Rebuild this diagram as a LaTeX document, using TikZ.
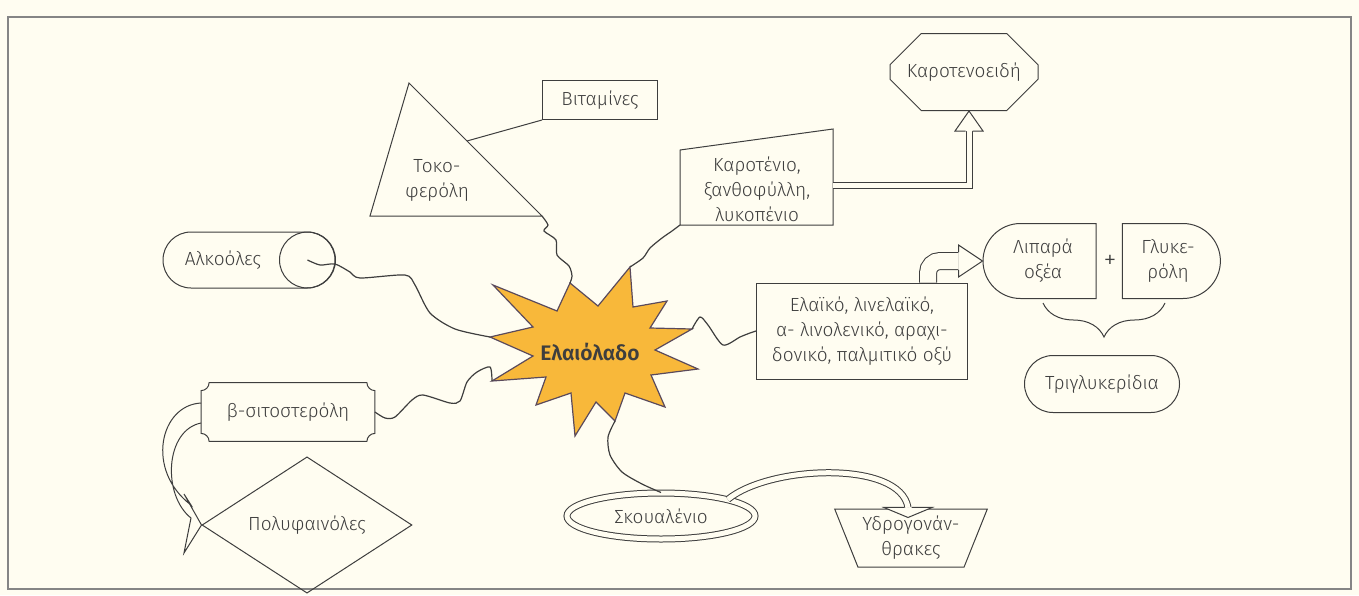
\documentclass[tikz,border=0pt]{standalone}
\usepackage{fontspec}
\setmainfont{Fira Sans}[UprightFont=* Light, BoldFont=* SemiBold]
\usetikzlibrary{shapes.geometric,shapes.misc,decorations.pathreplacing,calc}

\definecolor{bgc}{HTML}{FFFDF1}
\definecolor{ink}{HTML}{3E3E3E}
\definecolor{framec}{HTML}{858585}
\definecolor{starfill}{HTML}{F8B83A}
\definecolor{staredge}{HTML}{5A4A5C}

\tikzset{
	ln/.style={draw=ink,line width=0.5pt},
	wire/.style={ln,line width=0.6pt},
	plain/.style={inner sep=0pt,align=center},
	box/.style={ln,rectangle,inner sep=0pt,align=center},
	hollow/.style={draw=ink,line width=0.5pt,double=bgc,double distance=#1},
}

% hollow arrow head: tip, direction, length, half width, half shaft
\newcommand{\hollowtip}[5]{%
	\begin{scope}[shift={(#1)},rotate=#2]
		\fill[bgc] (0,0) -- (-#3,#4) -- (-#3,-#4) -- cycle;
		\draw[ln] (-#3,#5) -- (-#3,#4) -- (0,0) -- (-#3,-#4) -- (-#3,-#5);
	\end{scope}}

\begin{document}
\begin{tikzpicture}[x=0.5pt,y=0.5pt,font=\fontsize{9.5}{12.5}\selectfont,text=ink]
	\useasboundingbox (0,0) rectangle (1359,-595);
	\fill[bgc] (0,0) rectangle (1359,-595);
	\draw[framec,line width=0.8pt] (8,-17) rectangle (1351,-589);

	% the star
	\draw[staredge,fill=starfill,line width=0.6pt]
		(630,-267) coordinate (o1) -- (633,-307) -- (667,-301) coordinate (o2) -- (650,-328)
		-- (692,-329) coordinate (o3) -- (655,-350) -- (698,-369) coordinate (o4) -- (651,-375)
		-- (665,-407) coordinate (o5) -- (625,-393) -- (615,-421) coordinate (o6) -- (596,-402)
		-- (575,-436) coordinate (o7) -- (571,-393) -- (536,-405) coordinate (o8) -- (546,-377)
		-- (492,-381) coordinate (o9) -- (533,-356) -- (490,-337) coordinate (o10) -- (533,-327)
		-- (493,-285) coordinate (o11) -- (557,-311) -- (570,-283) coordinate (o12) -- (598,-306) -- cycle;
	\node[font=\fontsize{10.5}{12}\selectfont\bfseries] (olive) at (590,-352) {Ελαιόλαδο};

	% tocopherol and vitamins
	\draw[ln] (409,-83) coordinate (tA) -- (542,-216) coordinate (tB) -- (370,-216) coordinate (tC) -- cycle;
	\node[plain] (toco) at (437,-180) {Τοκο-\\φερόλη};
	\node[box,minimum width=57.5pt,minimum height=19.5pt] (vit) at (600,-100) {Βιταμίνες};
	\draw[ln] ($(tA)!0.436!(tB)$) -- (vit.south west);

	% carotenes
	\draw[ln] (680,-150) coordinate (cA) -- (833,-129) coordinate (cB) -- (833,-225) coordinate (cC) -- (680,-225) coordinate (cD) -- cycle;
	\node[plain] (caro) at (757,-189) {Καροτένιο,\\ξανθοφύλλη,\\λυκοπένιο};
	\node[ln,chamfered rectangle,chamfered rectangle xsep=8.5pt,chamfered rectangle ysep=11pt,minimum width=74pt,minimum height=38.5pt,inner sep=0pt] (carot) at (964,-72) {Καροτενοειδή};
	\draw[hollow=2.5pt] ($(cB)!0.59!(cC)$) -| ($(carot.south)+(5,-20)$);
	\hollowtip{$(carot.south)+(5,0)$}{90}{20}{14}{3.5}

	% alcohols
	\node[ln,rounded rectangle,minimum width=86pt,minimum height=28pt,inner sep=0pt] (alc) at (249,-260) {};
	\draw[ln] ($(alc.east)+(-28,0)$) coordinate (alcc) circle[radius=28];
	\node[plain] (alctext) at (223,-260) {Αλκοόλες};

	% fatty acids
	\node[box,minimum width=105.5pt,minimum height=48pt] (fat) at (862,-331) {Ελαϊκό, λινελαϊκό,\\α- λινολενικό, αραχι-\\δονικό, παλμιτικό οξύ};
	\node[ln,rounded rectangle,rounded rectangle east arc=none,minimum width=56.5pt,minimum height=37.5pt,inner sep=0pt,align=center] (lip) at (1043,-261) {Λιπαρά\\οξέα};
	\node[ln,rounded rectangle,rounded rectangle west arc=none,minimum width=49pt,minimum height=37.5pt,inner sep=0pt,align=center] (gly) at (1168,-261) {Γλυκε-\\ρόλη};
	\node[font=\fontsize{13}{13}\selectfont] (plus) at (1110,-262) {+};
	\node[ln,rounded rectangle,minimum width=77.5pt,minimum height=28.5pt,inner sep=0pt] (tri) at (1102,-384) {Τριγλυκερίδια};
	\draw[ln,decorate,decoration={brace,mirror,amplitude=17pt}] ($(lip.south)+(0,-4)$) -- ($(gly.south)+(-3,-4)$);
	\draw[hollow=8pt,rounded corners=6pt] ($(fat.north)+(66,0)$) |- ($(lip.west)+(-24,0)$);
	\hollowtip{lip.west}{0}{24}{16}{9}

	% sitosterol and polyphenols
	\node[plain,minimum width=86.5pt,minimum height=29pt] (sito) at (288,-412) {β-σιτοστερόλη};
	\draw[ln] ($(sito.north west)+(8,0)$) -- ($(sito.north east)+(-8,0)$) arc[start angle=180,end angle=270,radius=8]
		-- ($(sito.south east)+(0,8)$) arc[start angle=90,end angle=180,radius=8]
		-- ($(sito.south west)+(8,0)$) arc[start angle=0,end angle=90,radius=8]
		-- ($(sito.north west)+(0,-8)$) arc[start angle=270,end angle=360,radius=8] -- cycle;
	\node[ln,diamond,minimum width=105pt,minimum height=48pt,inner sep=0pt] (poly) at (307,-525) {Πολυφαινόλες};
	\draw[ln] ($(sito.west)+(0,9)$) .. controls (160,-405) and (145,-470) .. (191,-505) -- (184,-494) -- (poly.west)
		-- (184,-553) -- (191,-518) .. controls (162,-495) and (165,-430) .. ($(sito.west)+(0,-11)$);

	% squalene and hydrocarbons
	\node[ln,ellipse,double=bgc,double distance=2.5pt,minimum width=94pt,minimum height=23pt,inner sep=0pt] (skou) at (661,-516) {Σκουαλένιο};
	\node[ln,trapezium,trapezium left angle=64,trapezium right angle=64,shape border rotate=180,trapezium stretches=true,minimum width=76.5pt,minimum height=29pt,inner sep=0pt,align=center] (hyd) at (911,-538) {Υδρογονάν-\\θρακες};
	\draw[hollow=2.5pt] (skou.north east) .. controls (770,-465) and (900,-460) .. ($(hyd.north)+(-3,1)$);
	\hollowtip{$(hyd.north)+(-3,-9)$}{-90}{10}{24}{3.5}

	% wires to the star
	\draw[wire] plot[smooth,tension=0.45] coordinates {(alcc) (320,-265) (335,-264) (350,-272) (360,-278) (405,-275) (415,-285) (430,-313) (455,-329) (o10)};
	\draw[wire] plot[smooth,tension=0.45] coordinates {(tB) (548,-225) (544,-231) (556,-240) (557,-255) (569,-266) (572,-276) (o12)};
	\draw[wire] plot[smooth,tension=0.45] coordinates {(cD) (672,-231) (662,-238) (650,-248) (643,-258) (o1)};
	\draw[wire] plot[smooth,tension=0.45] coordinates {(o3) (700,-317) (708,-325) (723,-345) (740,-337) (750,-333) (fat.west)};
	\draw[wire] plot[smooth,tension=0.45] coordinates {(o9) (490,-367) (477,-372) (467,-382) (460,-401) (450,-403) (423,-395) (412,-400) (395,-417) (385,-418) (sito.east)};
	\draw[wire] plot[smooth,tension=0.45] coordinates {(o6) (608,-437) (610,-455) (622,-472) (642,-484) (skou.north)};
\end{tikzpicture}
\end{document}
